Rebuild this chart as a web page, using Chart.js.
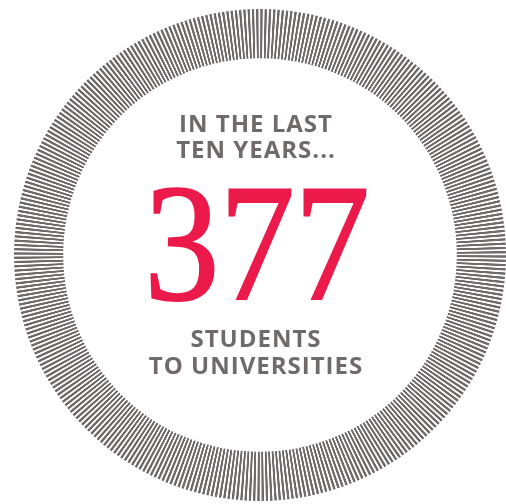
<!DOCTYPE html>
<html>
<head>
<meta charset="utf-8">
<script src="https://cdn.jsdelivr.net/npm/chart.js@4/dist/chart.umd.min.js"></script>
<style>
  html, body { margin: 0; padding: 0; background: #fff; }
  #wrap { width: 506px; height: 504px; }
</style>
</head>
<body>
<div id="wrap"><canvas id="ringChart"></canvas></div>
<script>
// Chart values
const labels = ["Students to universities"];
const students = [377];
const headline = ["IN THE LAST", "TEN YEARS..."];
const footline = ["STUDENTS", "TO UNIVERSITIES"];

const GREY = "#706a6b";
const RED = "#ec1a4b";
const STRIPES = 360;
const SANS = "bold 24px 'Open Sans', 'DejaVu Sans', sans-serif";
const SERIF = "167px 'Liberation Serif', 'DejaVu Serif', serif";

let stripeFill = null;

// striped fill for the ring (one thin line per degree), soft edges against moire
function ringFill(context) {
  const chart = context.chart;
  const area = chart.chartArea;
  if (!area) return GREY;
  if (stripeFill) return stripeFill;
  const cx = (area.left + area.right) / 2;
  const cy = (area.top + area.bottom) / 2;
  const g = chart.ctx.createConicGradient(-Math.PI / 2, cx, cy);
  for (let i = 0; i < STRIPES; i++) {
    g.addColorStop(i / STRIPES, "#ffffff");
    g.addColorStop((i + 0.15) / STRIPES, GREY);
    g.addColorStop((i + 0.55) / STRIPES, GREY);
    g.addColorStop((i + 0.72) / STRIPES, "#ffffff");
  }
  g.addColorStop(1, "#ffffff");
  stripeFill = g;
  return g;
}

// centre texts
const centerText = {
  id: "centerText",
  afterDraw(chart) {
    const ctx = chart.ctx;
    const x = 256;
    ctx.save();
    ctx.textAlign = "center";
    ctx.textBaseline = "alphabetic";
    ctx.fillStyle = GREY;
    ctx.font = SANS;
    ctx.letterSpacing = "1px";
    ctx.fillText(headline[0], x, 132);
    ctx.fillText(headline[1], x, 158);
    ctx.fillText(footline[0], x, 347);
    ctx.fillText(footline[1], x, 374);

    ctx.letterSpacing = "0px";
    ctx.fillStyle = RED;
    ctx.strokeStyle = RED;
    ctx.lineWidth = 2;
    ctx.font = SERIF;
    ctx.translate(x + 1, 299);
    ctx.scale(0.9, 1);
    ctx.fillText(String(students[0]), 0, 0);
    ctx.strokeText(String(students[0]), 0, 0);
    ctx.restore();
  },
};

function drawChart() {
  new Chart(document.getElementById("ringChart").getContext("2d"), {
    type: "doughnut",
    data: {
      labels: labels,
      datasets: [
        {
          data: students,
          backgroundColor: ringFill,
          borderWidth: 0,
        },
      ],
    },
    options: {
      responsive: true,
      maintainAspectRatio: false,
      animation: false,
      cutout: "80%",
      layout: { padding: { left: 14, right: 0, top: 9, bottom: 3 } },
      plugins: {
        legend: { display: false },
        tooltip: { enabled: false },
      },
    },
    plugins: [centerText],
  });
}

Promise.all([document.fonts.load(SANS), document.fonts.load(SERIF)])
  .catch(() => {})
  .then(drawChart);
</script>
</body>
</html>
